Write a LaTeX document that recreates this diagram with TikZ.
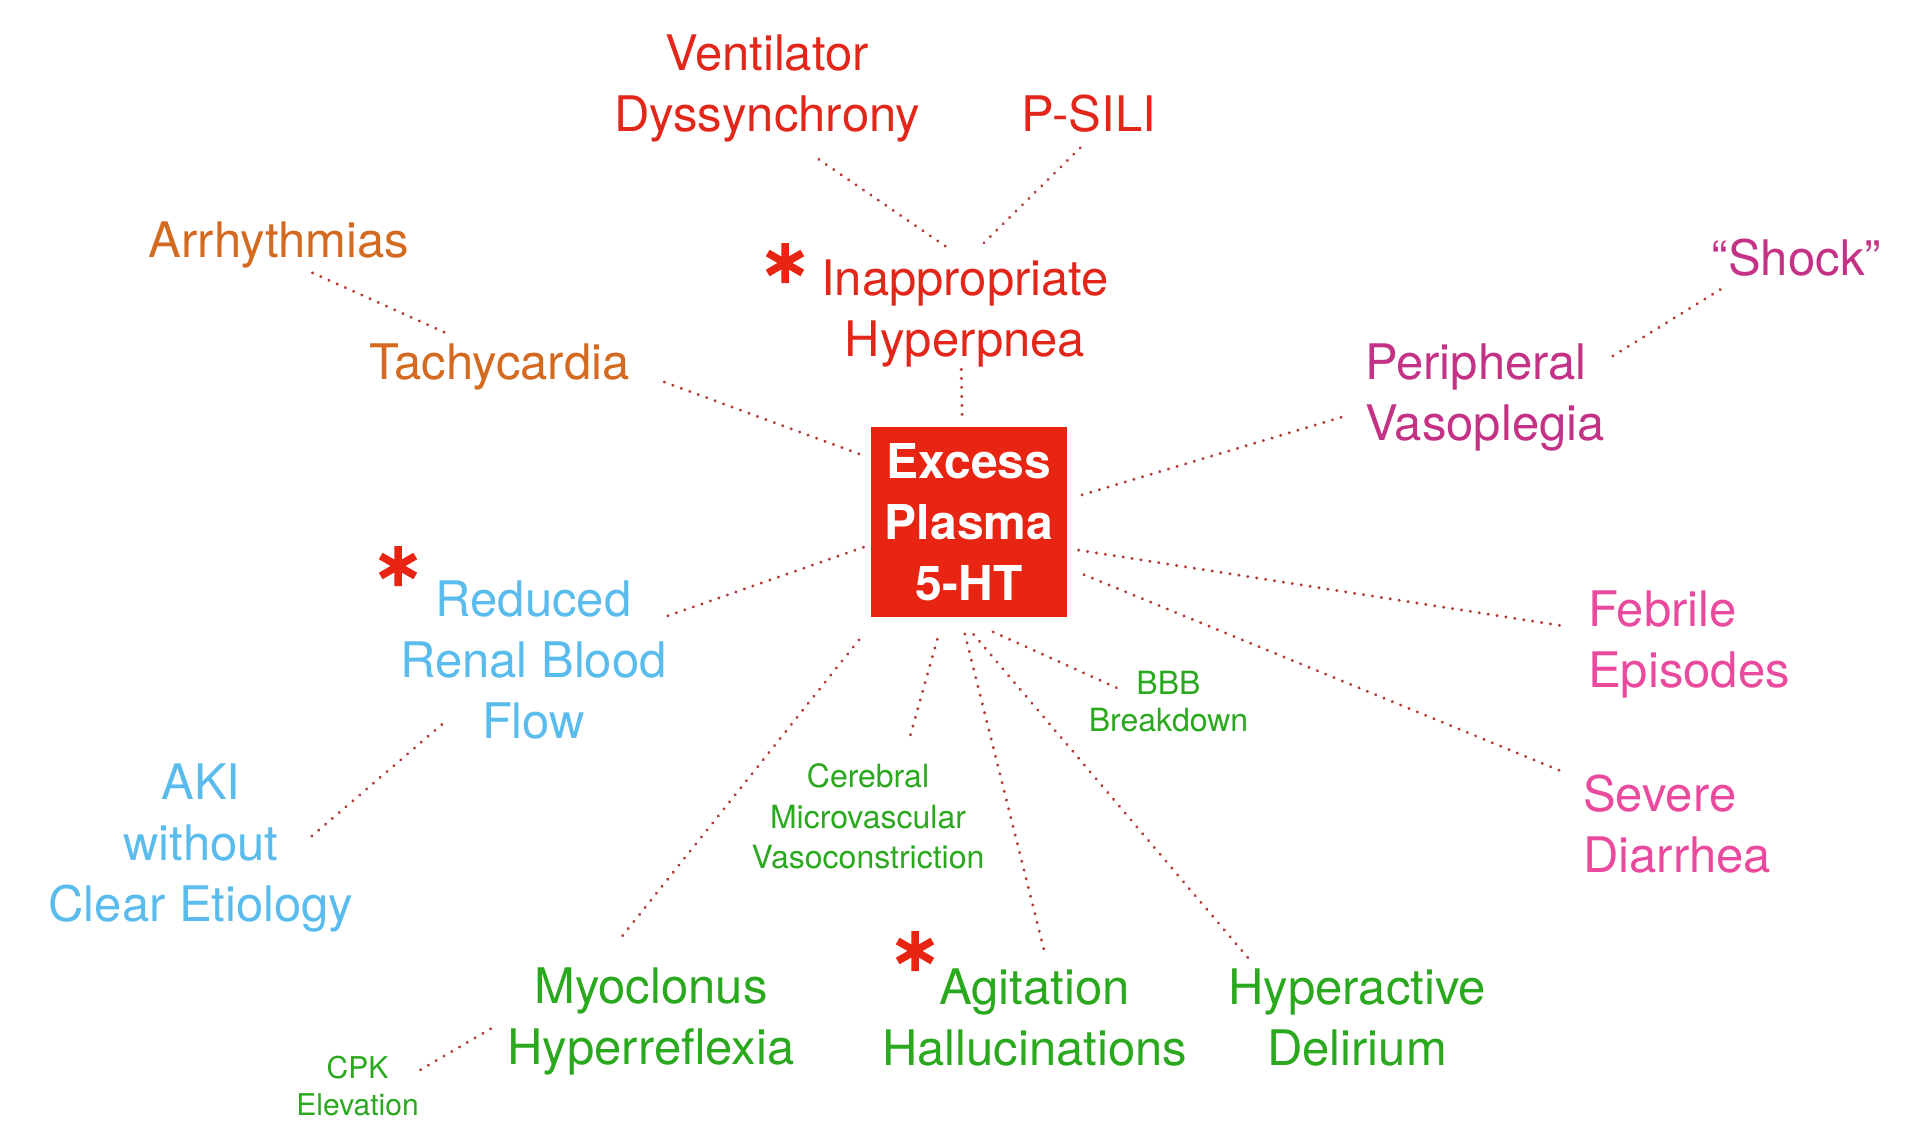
\documentclass[tikz,border=0pt]{standalone}
\usepackage{fontspec}
\setmainfont{TeX Gyre Heros}
\definecolor{boxred}{RGB}{232,36,18}
\definecolor{tred}{RGB}{226,38,26}
\definecolor{torange}{RGB}{212,106,32}
\definecolor{tmagenta}{RGB}{196,50,134}
\definecolor{tpink}{RGB}{234,74,158}
\definecolor{tblue}{RGB}{90,188,236}
\definecolor{tgreen}{RGB}{42,168,30}
\definecolor{dotc}{RGB}{180,58,54}
\tikzset{
  lbl/.style={inner sep=0pt, align=center, font=\fontsize{49}{61}\selectfont},
  sml/.style={inner sep=0pt, align=center, font=\fontsize{32}{40.5}\selectfont},
  smlb/.style={inner sep=0pt, align=center, font=\fontsize{32}{37}\selectfont},
  smlc/.style={inner sep=0pt, align=center, font=\fontsize{30}{37}\selectfont},
  centerbox/.style={inner sep=0pt, align=center, fill=boxred, text=white,
    minimum width=196pt, minimum height=190pt,
    font=\bfseries\fontsize{48}{61}\selectfont},
  conn/.style={draw=dotc, line width=3.3pt, line cap=round, dash pattern=on 0.01pt off 9pt},
  astmark/.pic={\draw[boxred, line width=7.5pt] (0,-20)--(0,20) (-17.3,-10)--(17.3,10) (-17.3,10)--(17.3,-10);}
}
\begin{document}
\begin{tikzpicture}[x=1pt,y=-1pt]
\fill[white] (0,0) rectangle (1920,1130);
\useasboundingbox (0,0) rectangle (1920,1130);

\node[centerbox] (box) at (969,522) {Excess\\Plasma\\5-HT};

\node[lbl, text=tred] (vent) at (767,88) {Ventilator\\Dyssynchrony};
\node[lbl, text=tred] (psili) at (1089,113.5) {P-SILI};
\node[lbl, text=torange] (arr) at (279,244.5) {Arrhythmias};
\node[lbl, text=torange] (tachy) at (499.5,367) {Tachycardia};
\node[lbl, text=tred] (hyperp) at (965,313.5) {Inappropriate\\Hyperpnea};
\node[lbl, text=tmagenta] (shock) at (1796.5,257.5) {“Shock”};
\node[lbl, text=tmagenta, align=left, anchor=west] (periph) at (1365,397.5) {Peripheral\\Vasoplegia};
\node[lbl, text=tpink, align=left, anchor=west] (febrile) at (1588,644) {Febrile\\Episodes};
\node[lbl, text=tpink, align=left, anchor=west] (severe) at (1583,824) {Severe\\Diarrhea};
\node[lbl, text=tblue] (reduced) at (533.5,659.5) {Reduced\\Renal Blood\\Flow};
\node[lbl, text=tblue] (aki) at (201,848) {AKI\\without\\Clear Etiology};
\node[sml, text=tgreen] (cereb) at (868,816.5) {Cerebral\\Microvascular\\Vasoconstriction};
\node[smlb, text=tgreen] (bbb) at (1168.5,702) {BBB\\Breakdown};
\node[lbl, text=tgreen] (myo) at (651,1021.5) {Myoclonus\\Hyperreflexia};
\node[lbl, text=tgreen] (agit) at (1034.5,1017) {Agitation\\Hallucinations};
\node[lbl, text=tgreen] (hyperact) at (1357,1017) {Hyperactive\\Delirium};
\node[smlc, text=tgreen] (cpk) at (357.5,1086) {CPK\\Elevation};

\pic at (785,263) {astmark};
\pic at (398,566) {astmark};
\pic at (915,951) {astmark};

\draw[conn, shorten <=31pt, shorten >=19pt] (vent.-64) -- (hyperp.north);
\draw[conn, shorten <=22pt, shorten >=18pt] (psili.-70) -- (hyperp.88);
\draw[conn, shorten <=12pt, shorten >=26pt] (arr.-46) -- (tachy.142);
\draw[conn, shorten <=37pt, shorten >=4pt] (tachy.-1.3) -- (box.147.5);
\draw[conn, shorten <=2pt, shorten >=7pt] (hyperp.-94) -- (box.94.8);
\draw[conn, shorten <=25pt, shorten >=6pt] (shock.-161) -- (periph.17);
\draw[conn, shorten <=25pt, shorten >=15pt] (periph.186.5) -- (box.13.2);
\draw[conn, shorten <=29pt, shorten >=6pt] (febrile.172.9) -- (box.-15.9);
\draw[conn, shorten <=26pt, shorten >=13pt] (severe.155.1) -- (box.-25.6);
\draw[conn, shorten <=1pt, shorten >=4pt] (reduced.18) -- (box.-167);
\draw[conn, shorten <=148pt, shorten >=217pt] (aki.-91.4) -- (reduced.46.6);
\draw[conn, shorten <=41pt, shorten >=24pt] (myo.135.1) -- (box.-134.1);
\draw[conn, shorten <=30pt, shorten >=17pt] (cereb.57.1) -- (box.-105.6);
\draw[conn, shorten <=20pt, shorten >=16.5pt] (agit.74.6) -- (box.-95.4);
\draw[conn, shorten <=14pt, shorten >=22pt] (hyperact.154.5) -- (box.-96.2);
\draw[conn, shorten <=109pt, shorten >=34pt] (bbb.-33.2) -- (box.-95.4);
\draw[conn, shorten <=2pt, shorten >=17pt] (cpk.14.4) -- (myo.179.6);
\end{tikzpicture}
\end{document}
